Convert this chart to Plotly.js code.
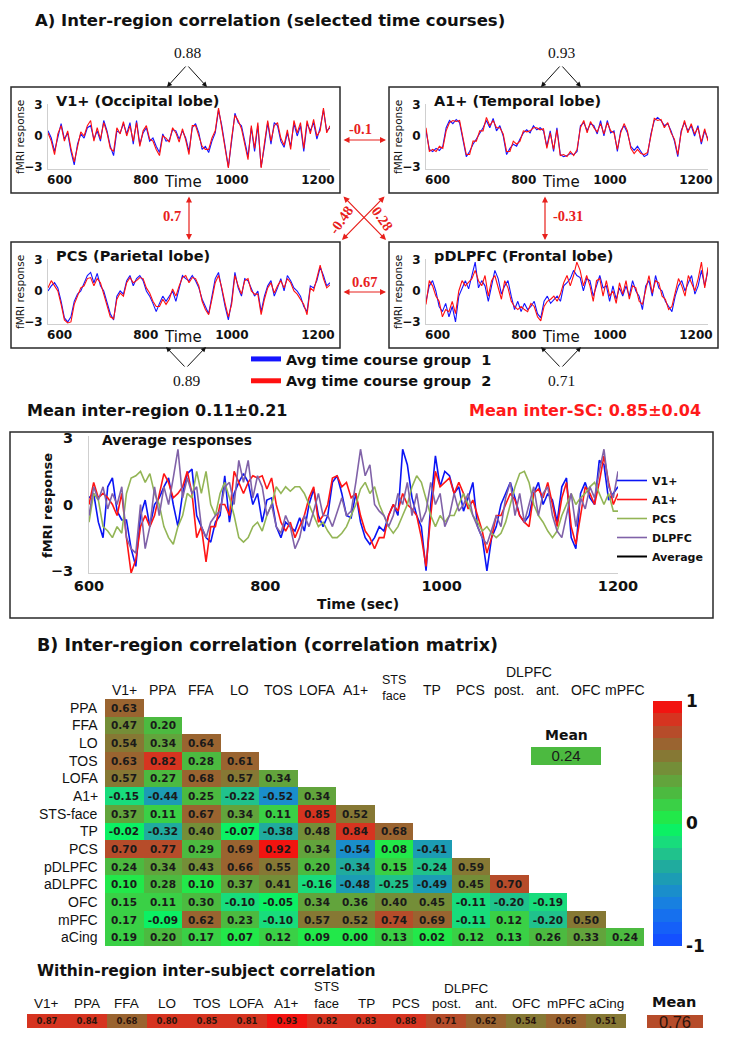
<!DOCTYPE html>
<html><head><meta charset="utf-8">
<script src="https://cdn.plot.ly/plotly-3.0.1.min.js"></script>
<style>html,body{margin:0;padding:0;background:#fff;}#chart{width:729px;height:1038px;}</style>
</head><body><div id="chart"></div>
<script>
// ---------------- DATA ----------------
const smallTimeRange = [573, 1228];
const avgTimeRange = [600, 1200];
const timeTicks = [600, 800, 1000, 1200];

const v1_group1 = [0.5,-0.2,-1.5,0,1.2,-0.3,0.3,-1.5,-2.8,-0.8,0.2,-0.2,0.8,1.0,-0.3,0.5,-0.5,1.5,0.5,-1.0,-1.9,0.5,0.3,1.2,0.2,1.3,-0.8,1.5,-0.8,0.3,0.8,-0.5,-0.2,-1.0,-1.6,0.2,-0.5,-0.4,0.6,0.5,-0.3,0.5,-0.2,-1.5,0.8,1.2,0.3,-1.3,-1.0,-1.6,-0.5,0.3,2.5,1.0,-1.0,-3.0,-0.5,2.2,1.3,1.0,-0.5,-2.0,0.8,-1.5,1.0,-3.0,-1.0,1.3,-0.8,1.3,1.0,-0.5,-1.1,0.3,-1.0,1.2,0.0,1.0,-1.5,1.2,0.5,1.3,-0.3,0.8,2.5,0.5,0.8];
const v1_group2 = [0.3,-0.5,-1.8,0.2,1.0,-0.5,0.5,-1.2,-2.5,-1.0,0.4,0.0,1.0,1.5,-0.5,0.8,-0.3,1.3,0.3,-1.2,-1.5,0.8,0.2,1.4,0.0,1.0,-0.5,1.3,-1.0,0.5,1.0,-0.3,-0.5,-1.3,-1.9,0.0,-0.2,-0.6,0.8,0.3,-0.6,0.7,-0.4,-1.8,1.0,1.0,0.0,-1.0,-1.3,-1.3,-0.2,0.5,2.7,0.8,-1.3,-3.1,-0.2,2.0,1.5,0.7,-0.8,-2.3,1.0,-1.2,1.3,-3.1,-0.7,1.5,-0.5,1.0,1.3,-0.2,-0.9,0.6,-1.3,1.5,0.3,1.3,-1.2,1.5,0.2,1.6,0.0,0.5,2.7,0.3,1.0];

const a1_group1 = [0.5,-1.3,-1.5,-1.2,-1.4,-1.0,0.8,1.5,1.2,1.6,1.3,-0.5,-2.0,-1.5,-0.8,-0.3,0.2,0.8,1.5,0.8,1.7,0.5,1.0,0.0,-1.8,-1.2,-0.8,-1.0,-0.3,0.3,0.6,0.3,1.0,0.6,0.8,0.5,-1.0,0.5,-1.5,0.8,-1.8,-2.0,-1.9,-1.7,-1.8,-1.5,1.0,1.3,0.5,1.2,1.0,0.2,1.5,0.0,1.5,0.3,0.5,-1.5,0.5,1.0,0.3,-1.0,-1.4,-1.0,-1.5,-2.0,-1.8,0.2,1.5,1.8,1.5,1.0,1.2,0.5,-0.5,-2.0,0.5,1.3,0.5,1.0,0.0,1.0,-0.8,0.5,-0.3];
const a1_group2 = [0.8,-1.5,-1.3,-1.5,-1.0,-1.2,0.5,1.3,1.5,1.4,1.5,-0.3,-1.8,-1.8,-0.5,-0.5,0.5,0.5,1.8,1.0,1.5,0.8,0.8,0.2,-1.5,-1.5,-0.5,-0.8,-0.5,0.5,0.4,0.5,0.8,0.8,0.6,0.7,-1.2,0.3,-1.3,0.6,-1.9,-1.8,-2.0,-1.5,-1.9,-1.3,0.8,1.5,0.3,1.4,0.8,0.4,1.2,0.2,1.3,0.5,0.3,-1.3,0.3,1.2,0.5,-1.2,-1.7,-1.3,-1.7,-1.8,-1.6,0.0,1.7,1.5,1.6,0.8,1.3,0.3,-0.3,-1.8,0.3,1.5,0.3,1.2,0.2,0.8,-0.6,0.7,-0.5];

const pcs_group1 = [0.0,0.5,0.8,0.3,-1.0,-2.6,-3.0,-2.5,-1.0,-0.3,0.0,0.8,1.5,1.8,0.8,1.7,0.5,0.0,-1.0,-2.2,-2.8,-0.5,0.0,-0.3,1.0,1.5,0.5,1.2,1.5,1.0,0.0,-0.5,-1.2,-2.0,-1.2,-0.5,-1.0,-0.5,0.0,-1.0,0.3,1.5,1.2,1.0,1.5,1.0,0.3,-0.8,-1.5,-2.2,-0.5,1.2,1.8,0.0,-1.5,-2.8,-1.0,1.8,0.3,-0.5,1.2,1.0,0.3,-0.5,0.0,-2.0,-0.5,0.5,1.0,-0.5,0.3,1.2,0.0,1.5,1.0,0.3,0.0,-0.5,-1.5,-2.0,0.5,0.3,1.0,2.3,1.5,0.5,0.8];
const pcs_group2 = [0.3,1.0,0.5,0.0,-1.3,-2.8,-3.1,-3.0,-1.3,-0.5,0.3,0.5,1.2,1.3,0.5,1.2,0.8,-0.3,-1.3,-2.5,-2.7,-0.8,-0.2,-0.5,0.8,1.3,0.8,1.0,1.3,1.2,0.3,-0.2,-1.0,-1.5,-1.5,-0.8,-1.3,-0.8,0.2,-0.5,0.5,1.3,1.5,0.8,1.3,1.2,0.5,-1.0,-1.8,-2.3,-0.8,0.8,1.5,0.3,-1.2,-2.5,-1.3,1.5,0.5,-0.3,1.0,1.2,0.0,-0.3,-0.3,-2.3,-0.8,0.3,0.8,-0.2,0.5,1.0,0.3,1.2,0.8,0.0,-0.3,-0.8,-1.3,-2.3,0.3,0.0,1.2,2.5,1.2,0.3,0.6];

const dlpfc_group1 = [-1.0,0.5,1.0,0.0,-1.5,-2.0,-1.2,-2.5,-1.5,-3.0,-0.5,0.3,1.0,0.2,1.5,2.8,0.3,1.0,0.5,-1.0,0.5,2.0,1.2,-0.3,0.5,1.0,-0.5,-1.8,-1.0,-2.0,-1.2,-1.8,-1.5,-1.0,-2.2,-2.6,-1.0,-0.5,-1.2,-0.8,-0.5,-1.0,0.5,0.8,1.2,2.0,1.5,1.3,0.0,1.2,1.0,-0.5,0.5,1.5,0.3,0.5,-1.0,0.5,-0.8,0.3,-0.5,0.5,-0.5,1.0,0.0,-0.5,-1.8,0.5,1.0,-0.5,1.5,0.3,0.0,-1.0,-1.5,-2.0,-0.5,0.5,1.0,0.0,0.8,1.5,-0.3,0.5,2.0,0.5,2.0];
const dlpfc_group2 = [-1.3,1.0,0.5,-0.5,-1.0,-2.5,-1.8,-2.0,-1.0,-2.2,0.0,1.0,0.5,0.8,1.2,2.0,1.0,0.5,1.5,-0.5,1.0,1.5,0.3,-0.8,1.0,0.3,-1.0,-1.5,-1.8,-1.5,-1.8,-2.0,-1.2,-1.5,-2.5,-2.9,-1.5,-1.0,-0.8,-0.5,-1.0,-0.3,0.8,1.5,0.5,1.5,2.8,2.0,0.5,1.5,0.5,-1.0,1.0,1.2,-0.5,1.0,-0.5,0.0,-1.2,0.8,-0.3,1.0,-0.8,0.5,0.3,-1.0,-1.3,0.0,1.5,-0.2,1.0,0.8,-0.5,-0.8,-1.8,-1.5,0.0,1.2,0.5,-0.5,1.5,0.8,0.0,1.2,2.8,0.3,2.3];

const avg_v1 = [0.3,0.5,-0.8,-1.5,0.8,1.2,-0.3,-0.7,-0.7,-2.0,-2.8,-0.5,0.2,-1.0,0.0,0.3,0.8,1.2,0.0,-1.0,0.5,1.4,1.6,-0.5,-1.0,-1.5,-1.7,-0.8,-0.5,1.3,-0.8,0.5,1.0,1.4,1.0,0.0,0.5,-0.8,0.2,0.3,-1.0,-1.5,-0.8,-1.0,-1.2,-0.6,-1.2,0.0,0.7,-0.5,-1.0,-0.5,1.0,1.3,0.5,-0.5,-0.6,0.5,-0.8,-1.5,-1.8,-1.5,-1.0,-1.2,-0.5,0.0,-0.5,2.5,1.8,0.3,-0.5,-1.0,-3.0,0.0,2.2,0.8,1.5,1.3,0.5,0.8,-0.3,0.3,1.0,-1.0,-1.5,-3.0,-1.5,-1.0,0.0,0.5,1.0,0.3,-0.5,-0.8,-0.5,0.5,1.0,0.0,0.5,0.2,-0.8,0.8,1.2,-1.5,-2.0,0.5,1.0,0.3,0.0,2.0,1.8,0.2,0.5,0.8];
const avg_a1 = [0.0,1.0,0.3,0.5,0.3,0.0,-0.5,0.5,-1.5,-3.1,-2.5,-1.0,-0.5,-1.0,-0.5,0.5,1.4,1.0,0.3,0.5,0.8,1.5,0.5,-1.5,-1.0,-2.6,-1.0,-1.0,0.0,0.0,-0.5,1.5,1.0,0.5,1.0,1.3,1.2,1.3,0.7,1.2,0.0,-0.8,-1.2,-0.8,-1.5,-1.0,-0.5,0.3,0.8,-0.8,-0.5,0.0,1.2,1.3,0.8,1.0,0.3,0.5,-0.5,-1.2,-1.5,-2.0,-1.5,-1.5,-0.5,0.0,-0.3,0.5,0.0,-0.2,-0.5,-1.5,-2.8,-0.5,1.5,0.8,1.0,1.2,0.5,1.0,0.5,-0.2,0.2,-0.5,-1.2,-2.2,-1.5,-0.5,-0.5,0.0,0.5,0.2,-0.5,-0.8,-1.0,0.5,0.7,0.3,1.0,0.0,-1.0,0.3,1.0,-1.0,-1.8,-0.5,0.8,0.5,0.0,1.0,2.2,1.0,0.0,0.5];
const avg_pcs = [-0.8,0.5,0.2,-1.0,-1.2,-1.5,-1.0,-1.3,0.5,1.2,1.3,1.5,1.0,1.4,0.5,0.0,-1.0,-1.5,-1.8,-1.0,-0.5,0.5,0.3,1.5,0.5,1.5,0.0,-0.5,0.5,1.0,0.3,-0.5,-1.5,-1.7,-1.5,-1.0,-0.8,-1.2,-0.5,0.0,0.8,0.5,0.8,0.6,0.8,0.8,0.5,0.0,-0.5,-1.0,-0.8,-1.2,-1.5,-1.5,-1.3,-1.0,-0.5,0.0,0.7,1.0,0.5,0.8,0.0,-0.5,-1.0,-1.3,-1.0,-0.5,0.0,0.8,1.3,1.0,0.3,-0.5,-1.0,-0.5,-0.8,-0.5,-0.5,0.0,0.5,0.0,-0.5,-0.8,-1.2,-1.0,-1.3,-1.5,-1.3,-0.8,0.0,0.8,1.4,1.5,1.0,0.0,-0.5,-0.8,-1.2,-1.5,-1.2,-0.5,0.0,0.5,0.0,0.3,0.5,0.8,1.0,0.5,0.0,0.5,-0.3,-0.3];
const avg_dlpfc = [-0.5,0.8,0.2,0.8,-0.2,0.5,0.0,0.8,-1.5,-2.0,-2.2,0.0,-2.0,-1.0,0.8,-0.5,0.8,0.0,1.2,2.5,0.3,1.2,0.5,0.8,-1.0,-1.5,-0.8,-0.5,-0.3,0.8,1.0,0.0,2.0,1.0,2.0,0.3,1.3,0.8,-0.5,0.0,-1.0,-1.3,-0.5,-1.0,-2.0,-1.5,-0.5,-1.0,-0.3,0.5,-0.5,-0.5,-1.0,-0.3,0.3,-0.5,-0.3,1.0,2.5,1.3,1.8,0.0,-0.3,-0.5,-1.0,-0.5,0.5,0.0,1.0,-0.5,0.5,-0.8,-0.3,1.0,0.0,0.5,-1.0,-0.5,0.5,-0.3,0.0,0.5,-0.5,-1.0,-1.5,-1.8,-1.2,-0.5,-1.0,0.3,1.0,-0.5,0.5,-0.8,0.0,0.8,-0.5,0.5,0.8,-0.5,-1.2,-1.5,-0.5,0.5,-1.0,0.3,-0.2,0.8,0.3,1.5,2.5,0.8,0.3,1.5];

const panelTitles = ['V1+ (Occipital lobe)', 'A1+ (Temporal lobe)', 'PCS (Parietal lobe)', 'pDLPFC (Frontal lobe)'];
const groupNames = ['Avg time course group\u00a0 1', 'Avg time course group\u00a0 2'];
const avgNames = ['V1+', 'A1+', 'PCS', 'DLPFC', 'Average'];

// pairwise correlations of the selected time courses
const corrTop = {within: [0.88, 0.93, 0.89, 0.71], v1a1: -0.1, v1pcs: 0.7, a1dl: -0.31, pcsdl: 0.67, a1pcs: -0.48, v1dl: 0.28};
const meanInterRegion = '0.11±0.21';
const meanInterSC = '0.85±0.04';

const matrixRowLabels = ['PPA','FFA','LO','TOS','LOFA','A1+','STS-face','TP','PCS','pDLPFC','aDLPFC','OFC','mPFC','aCing'];
const matrixColLabels = ['V1+','PPA','FFA','LO','TOS','LOFA','A1+','STS<br>face','TP','PCS','post.','ant.','OFC','mPFC'];
const corrRows = [
 [0.63],
 [0.47,0.20],
 [0.54,0.34,0.64],
 [0.63,0.82,0.28,0.61],
 [0.57,0.27,0.68,0.57,0.34],
 [-0.15,-0.44,0.25,-0.22,-0.52,0.34],
 [0.37,0.11,0.67,0.34,0.11,0.85,0.52],
 [-0.02,-0.32,0.40,-0.07,-0.38,0.48,0.84,0.68],
 [0.70,0.77,0.29,0.69,0.92,0.34,-0.54,0.08,-0.41],
 [0.24,0.34,0.43,0.66,0.55,0.20,-0.34,0.15,-0.24,0.59],
 [0.10,0.28,0.10,0.37,0.41,-0.16,-0.48,-0.25,-0.49,0.45,0.70],
 [0.15,0.11,0.30,-0.10,-0.05,0.34,0.36,0.40,0.45,-0.11,-0.20,-0.19],
 [0.17,-0.09,0.62,0.23,-0.10,0.57,0.52,0.74,0.69,-0.11,0.12,-0.20,0.50],
 [0.19,0.20,0.17,0.07,0.12,0.09,0.00,0.13,0.02,0.12,0.13,0.26,0.33,0.24]
];
const meanCorr = 0.24;
const iscLabels = ['V1+','PPA','FFA','LO','TOS','LOFA','A1+','STS<br>face','TP','PCS','post.','ant.','OFC','mPFC','aCing'];
const iscValues = [0.87,0.84,0.68,0.80,0.85,0.81,0.93,0.82,0.83,0.88,0.71,0.62,0.54,0.66,0.51];
const meanIsc = 0.76;
const colorbarTicks = [-1, 0, 1];

// ---------------- STYLE / LAYOUT HELPERS ----------------
const W = 729, H = 1038;
const X = p => p / W, Y = p => 1 - p / H;
const xd = (a, b) => [a / W, b / W];
const yd = (top, bot) => [1 - bot / H, 1 - top / H];
const grid = (n, r) => Array.from({length: n}, (_, i) => r[0] + i * (r[1] - r[0]) / (n - 1));
const fmt2 = v => v.toFixed(2);

const bandColors = ['#1450ff','#1560f8','#1670ee','#1880e0','#1a8ecb','#1c9cb4','#20ab9e','#20c28c','#18dc7c','#0cf064',
                    '#22e84a','#3ad046','#4cba40','#62a43c','#748e38','#867834','#9a6430','#b64c2a','#d63420','#f21410'];
const stepScale = [];
bandColors.forEach((c, k) => { stepScale.push([k / 20, c]); stepScale.push([(k + 1) / 20, c]); });

const SANS = 'DejaVu Sans, Verdana, sans-serif';
const ARIAL = 'Liberation Sans, Arial, sans-serif';
const SERIF = 'Liberation Serif, Times New Roman, serif';
const BLUE = '#1414ff', RED = '#ff1010', ARED = '#e8201c';

const traces = [];
const annotations = [];
const shapes = [];
const layout = {
  width: W, height: H, margin: {l: 0, r: 0, t: 0, b: 0},
  paper_bgcolor: '#fff', plot_bgcolor: 'rgba(0,0,0,0)', showlegend: true,
  hovermode: false
};

function ann(text, px, py, font, extra) {
  return Object.assign({text, x: X(px), y: Y(py), xref: 'paper', yref: 'paper', showarrow: false,
    xanchor: 'center', yanchor: 'middle', font: Object.assign({family: SANS, size: 12, color: '#111'}, font)}, extra || {});
}
function arrow(x1, y1, x2, y2, color, both, w) {
  return {text: '', x: X(x2), y: Y(y2), xref: 'paper', yref: 'paper', ax: x1 - x2, ay: y1 - y2,
    axref: 'pixel', ayref: 'pixel', showarrow: true, arrowhead: 2, startarrowhead: 2, arrowsize: 1,
    arrowwidth: w || 1.2, arrowcolor: color, arrowside: both ? 'end+start' : 'end', standoff: 0, startstandoff: 0};
}
function box(x0, y0, x1, y1) {
  return {type: 'rect', xref: 'paper', yref: 'paper', x0: X(x0), x1: X(x1), y0: Y(y0), y1: Y(y1),
    line: {color: '#2a2a2a', width: 1.5}, fillcolor: 'rgba(0,0,0,0)', layer: 'below'};
}

// ---------------- A) small panels ----------------
const panelData = [[v1_group1, v1_group2], [a1_group1, a1_group2], [pcs_group1, pcs_group2], [dlpfc_group1, dlpfc_group2]];
const offsets = [[0, 0], [378, 0], [0, 155], [378, 155]];
panelData.forEach((pd, i) => {
  const [ox, oy] = offsets[i];
  const ax = i + 1, sfx = ax === 1 ? '' : String(ax);
  layout['xaxis' + sfx] = {domain: xd(48 + ox, 330 + ox), range: smallTimeRange, tickvals: timeTicks, showgrid: false, zeroline: false,
    showline: true, linecolor: '#cfcfcf', linewidth: 1, ticks: '',
    tickfont: {family: SANS, size: 12, weight: 'bold', color: '#111'}, anchor: 'y' + sfx, fixedrange: true};
  layout['yaxis' + sfx] = {domain: yd(104 + oy, 169 + oy), range: [-3.2, 3.1], tickvals: [-3, 0, 3], showgrid: false, zeroline: false,
    showline: true, linecolor: '#cfcfcf', linewidth: 1, ticks: 'outside', ticklen: 2, tickcolor: 'rgba(0,0,0,0)',
    tickfont: {family: SANS, size: 12, weight: 'bold', color: '#111'}, anchor: 'x' + sfx, fixedrange: true};
  [BLUE, RED].forEach((c, g) => {
    traces.push({type: 'scatter', mode: 'lines', x: grid(pd[g].length, smallTimeRange), y: pd[g],
      line: {color: c, width: 1.1}, xaxis: 'x' + sfx, yaxis: 'y' + sfx, showlegend: false});
  });
  shapes.push(box(11 + ox, 87 + oy, 340 + ox, 193 + oy));
  annotations.push(ann('<b>' + panelTitles[i] + '</b>', 54 + ox, 101 + oy, {size: 14.5}, {xanchor: 'left'}));
  annotations.push(ann('fMRI response', 20 + ox, 137 + oy, {size: 10.5}, {textangle: -90}));
  annotations.push(ann('Time', 183 + ox, 182 + oy, {size: 15}));
});

// legend-only entries for the two groups
[BLUE, RED].forEach((c, g) => {
  traces.push({type: 'scatter', mode: 'lines', x: [null], y: [null], name: groupNames[g],
    line: {color: c, width: 5}, xaxis: 'x', yaxis: 'y', legend: 'legend'});
});
layout.legend = {x: X(246), y: Y(343), xanchor: 'left', yanchor: 'top', bgcolor: 'rgba(0,0,0,0)',
  font: {family: SANS, size: 14.5, weight: 'bold', color: '#111'}, itemwidth: 30, tracegroupgap: 0};

// title A
annotations.push(ann('<b>A) Inter-region correlation (selected time courses)</b>', 33, 21, {size: 16.5}, {xanchor: 'left'}));
// within-region carets
[187, 561].forEach((cx, k) => {
  annotations.push(arrow(cx, 65, cx - 20, 87, '#111', false, 1));
  annotations.push(arrow(cx, 65, cx + 20, 87, '#111', false, 1));
  annotations.push(ann(fmt2(corrTop.within[k]), cx, 52, {family: SERIF, size: 15.5}));
});
[[186, 2], [561, 3]].forEach(([cx, k]) => {
  annotations.push(arrow(cx, 368, cx - 20, 347, '#111', false, 1));
  annotations.push(arrow(cx, 368, cx + 20, 347, '#111', false, 1));
  annotations.push(ann(fmt2(corrTop.within[k]), cx, 380, {family: SERIF, size: 15.5}));
});
// between-region arrows
const redFont = {family: SERIF, size: 14.5, color: ARED};
annotations.push(arrow(342, 140, 386, 140, ARED, true));
annotations.push(ann('<b>' + corrTop.v1a1 + '</b>', 360, 129, redFont));
annotations.push(arrow(342, 292, 386, 292, ARED, true));
annotations.push(ann('<b>' + corrTop.pcsdl + '</b>', 364, 282, redFont));
annotations.push(arrow(189, 195, 189, 240, ARED, true));
annotations.push(ann('<b>' + corrTop.v1pcs + '</b>', 172, 216, redFont));
annotations.push(arrow(545, 195, 545, 240, ARED, true));
annotations.push(ann('<b>' + corrTop.a1dl + '</b>', 568, 216, redFont));
annotations.push(arrow(342, 195, 386, 240, ARED, true));
annotations.push(arrow(386, 195, 342, 240, ARED, true));
annotations.push(ann('<b>' + corrTop.a1pcs + '</b>', 341, 220, redFont, {textangle: -55}));
annotations.push(ann('<b>' + corrTop.v1dl + '</b>', 382, 218, redFont, {textangle: 55}));

annotations.push(ann('<b>Mean inter-region ' + meanInterRegion + '</b>', 25, 411, {size: 16}, {xanchor: 'left'}));
annotations.push(ann('<b>Mean inter-SC: ' + meanInterSC + '</b>', 703, 411, {size: 16, color: '#ff1a1a'}, {xanchor: 'right'}));

// ---------------- Average responses ----------------
layout.xaxis5 = {domain: xd(89, 618), range: avgTimeRange, tickvals: timeTicks, showgrid: false, zeroline: false,
  showline: true, linecolor: '#cfcfcf', ticks: '',
  tickfont: {family: SANS, size: 14.5, weight: 'bold', color: '#111'}, anchor: 'y5', fixedrange: true};
layout.yaxis5 = {domain: yd(436, 573), range: [-3.1, 3.1], tickvals: [-3, 0, 3], showgrid: false, zeroline: false,
  showline: true, linecolor: '#cfcfcf', ticks: 'outside', ticklen: 12, tickcolor: 'rgba(0,0,0,0)',
  tickfont: {family: SANS, size: 14.5, weight: 'bold', color: '#111'}, anchor: 'x5', fixedrange: true};
const avgSeries = [avg_v1, avg_a1, avg_pcs, avg_dlpfc];
const avgColors = ['#0a14f5', '#ff1414', '#93b556', '#8062a8', '#000000'];
avgSeries.forEach((s, k) => {
  traces.push({type: 'scatter', mode: 'lines', x: grid(s.length, avgTimeRange), y: s, name: avgNames[k],
    line: {color: avgColors[k], width: 1.6}, xaxis: 'x5', yaxis: 'y5', legend: 'legend2'});
});
traces.push({type: 'scatter', mode: 'lines', x: [null], y: [null], name: avgNames[4],
  line: {color: avgColors[4], width: 2}, xaxis: 'x5', yaxis: 'y5', legend: 'legend2'});
layout.legend2 = {x: X(612), y: Y(466), xanchor: 'left', yanchor: 'top', bgcolor: 'rgba(0,0,0,0)',
  font: {family: SANS, size: 11, weight: 'bold', color: '#111'}, itemwidth: 30, tracegroupgap: 0};
shapes.push(box(10, 432, 713, 618));
annotations.push(ann('<b>Average responses</b>', 100, 440, {size: 14}, {xanchor: 'left'}));
annotations.push(ann('<b>fMRI response</b>', 47, 505, {size: 13}, {textangle: -90}));
annotations.push(ann('<b>Time (sec)</b>', 358, 604, {size: 14}));

// ---------------- B) correlation matrix ----------------
annotations.push(ann('<b>B) Inter-region correlation (correlation matrix)</b>', 35, 645, {size: 17.5}, {xanchor: 'left'}));
const nM = matrixColLabels.length;
const zM = [], tM = [];
for (let r = 0; r < matrixRowLabels.length; r++) {
  const zr = [], tr = [];
  for (let c = 0; c < nM; c++) {
    const v = c < corrRows[r].length ? corrRows[r][c] : null;
    zr.push(v); tr.push(v === null ? '' : fmt2(v));
  }
  zM.push(zr); tM.push(tr);
}
const idx = n => Array.from({length: n}, (_, i) => i);
traces.push({type: 'heatmap', z: zM, x: idx(nM), y: idx(matrixRowLabels.length), text: tM,
  texttemplate: '<b>%{text}</b>', textfont: {family: SANS, size: 10.5, color: '#1a1a1a'},
  coloraxis: 'coloraxis', xaxis: 'x6', yaxis: 'y6', xgap: 0, ygap: 0, hoverinfo: 'skip'});
const mX0 = 105, mX1 = 644, mY0 = 699, mY1 = 946;
layout.xaxis6 = {domain: xd(mX0, mX1), range: [-0.5, nM - 0.5], visible: false, anchor: 'y6', fixedrange: true};
layout.yaxis6 = {domain: yd(mY0, mY1), range: [matrixRowLabels.length - 0.5, -0.5], visible: false, anchor: 'x6', fixedrange: true};
const cw = (mX1 - mX0) / nM, rh = (mY1 - mY0) / matrixRowLabels.length;
matrixColLabels.forEach((lab, i) => {
  const cx = mX0 + cw * (i + 0.5);
  const two = lab.indexOf('<br>') >= 0;
  annotations.push(ann(lab, cx, two ? 688 : 690, {family: ARIAL, size: two ? 12.5 : 14}));
});
annotations.push(ann('DLPFC', mX0 + cw * 11, 672, {family: ARIAL, size: 14}));
matrixRowLabels.forEach((lab, r) => {
  annotations.push(ann(lab, 100, mY0 + rh * (r + 0.5), {family: ARIAL, size: 14}, {xanchor: 'right'}));
});
// mean of matrix
traces.push({type: 'heatmap', z: [[meanCorr]], text: [[fmt2(meanCorr)]], texttemplate: '%{text}',
  textfont: {family: ARIAL, size: 15, color: '#1a1a1a'}, coloraxis: 'coloraxis', xaxis: 'x8', yaxis: 'y8', hoverinfo: 'skip'});
layout.xaxis8 = {domain: xd(531, 601), visible: false, anchor: 'y8', fixedrange: true};
layout.yaxis8 = {domain: yd(747, 765), visible: false, anchor: 'x8', fixedrange: true};
annotations.push(ann('<b>Mean</b>', 566, 735, {size: 14}));

layout.coloraxis = {cmin: -1, cmax: 1, colorscale: stepScale, showscale: true,
  colorbar: {x: X(653), xanchor: 'left', xref: 'paper', y: Y(823.5), yanchor: 'middle', yref: 'paper',
    len: 245 / H, lenmode: 'fraction', thickness: 29, thicknessmode: 'pixels', xpad: 0, ypad: 0,
    outlinewidth: 0, tickvals: colorbarTicks, ticktext: colorbarTicks.map(String), ticks: '',
    tickfont: {family: SANS, size: 17, weight: 'bold', color: '#111'}}};

// ---------------- Within-region ISC ----------------
annotations.push(ann('<b>Within-region inter-subject correlation</b>', 35, 971, {size: 15.5}, {xanchor: 'left'}));
const nI = iscValues.length, iX0 = 27, iX1 = 626;
traces.push({type: 'heatmap', z: [iscValues], x: idx(nI), y: [0], text: [iscValues.map(fmt2)],
  texttemplate: '<b>%{text}</b>', textfont: {family: SANS, size: 8.5, color: '#2a140c'},
  coloraxis: 'coloraxis', xaxis: 'x7', yaxis: 'y7', hoverinfo: 'skip'});
layout.xaxis7 = {domain: xd(iX0, iX1), range: [-0.5, nI - 0.5], visible: false, anchor: 'y7', fixedrange: true};
layout.yaxis7 = {domain: yd(1014, 1028), range: [-0.5, 0.5], visible: false, anchor: 'x7', fixedrange: true};
const iw = (iX1 - iX0) / nI;
iscLabels.forEach((lab, i) => {
  const cx = iX0 + iw * (i + 0.5);
  const two = lab.indexOf('<br>') >= 0;
  annotations.push(ann(lab, cx, two ? 995 : 1003, {family: ARIAL, size: two ? 13 : 13.5}));
});
annotations.push(ann('DLPFC', iX0 + iw * 11, 988, {family: ARIAL, size: 13.5}));
traces.push({type: 'heatmap', z: [[meanIsc]], text: [[fmt2(meanIsc)]], texttemplate: '%{text}',
  textfont: {family: ARIAL, size: 16.5, color: '#2a140c'}, coloraxis: 'coloraxis', xaxis: 'x9', yaxis: 'y9', hoverinfo: 'skip'});
layout.xaxis9 = {domain: xd(647, 703), visible: false, anchor: 'y9', fixedrange: true};
layout.yaxis9 = {domain: yd(1015, 1028), visible: false, anchor: 'x9', fixedrange: true};
annotations.push(ann('<b>Mean</b>', 674, 1002, {size: 14.5}));

layout.annotations = annotations;
layout.shapes = shapes;
Plotly.newPlot('chart', traces, layout, {staticPlot: true, displayModeBar: false});
</script>
</body></html>
